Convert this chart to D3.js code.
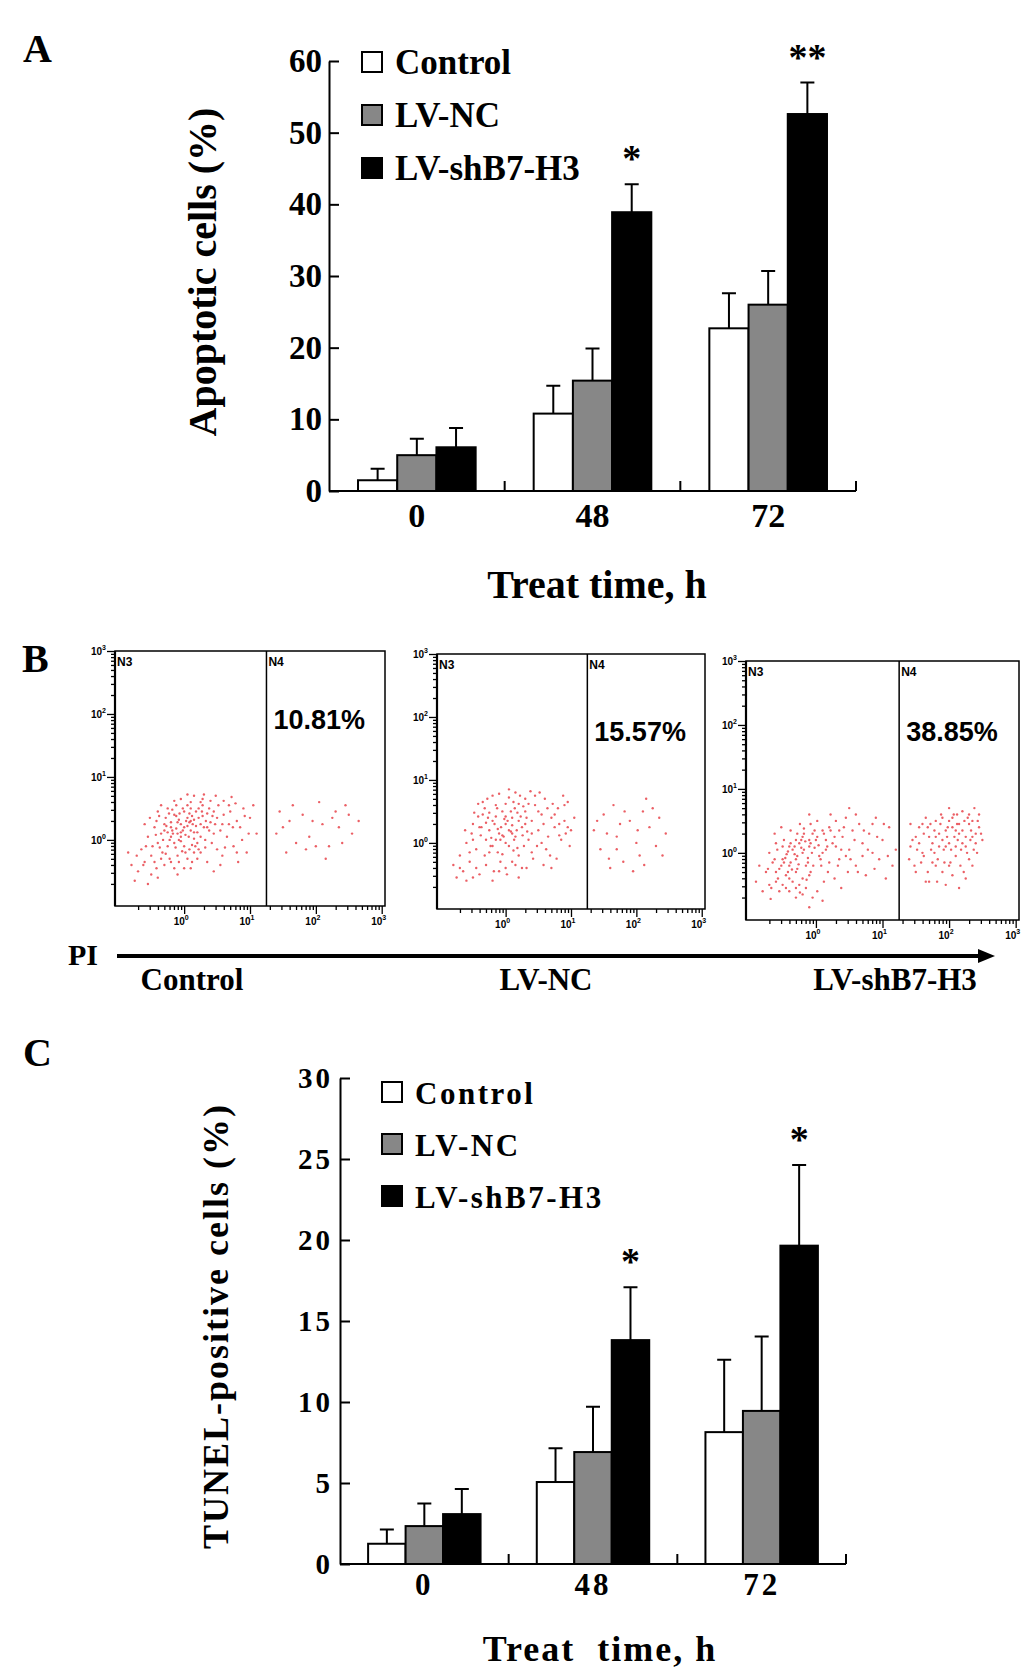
<!DOCTYPE html>
<html>
<head>
<meta charset="utf-8">
<script src="https://cdn.jsdelivr.net/npm/d3@7"></script>
<style>
body { margin: 0; background: #fff; }
svg text { font-family: "Liberation Serif", "Times New Roman", serif; font-weight: bold; fill: #000; }
.facs text { font-family: "Liberation Sans", Arial, sans-serif; }
</style>
</head>
<body>
<svg id="fig" width="1033" height="1674"></svg>
<script>
// ---- data ----
const groups = ["0", "48", "72"];
const series = ["Control", "LV-NC", "LV-shB7-H3"];

// panel A, apoptotic cells (%), one array per series (0, 48, 72 h)
const apoControl = [1.5, 10.8, 22.7];
const apoNC = [5.0, 15.4, 26.0];
const apoSh = [6.1, 38.9, 52.6];
const apoControlSd = [1.6, 3.9, 4.9];
const apoNCSd = [2.3, 4.5, 4.7];
const apoShSd = [2.7, 3.9, 4.4];
const apoTicks = [0, 10, 20, 30, 40, 50, 60];
const apoStars = ["", "*", "**"];

// panel C, TUNEL-positive cells (%)
const tunControl = [1.25, 5.06, 8.14];
const tunNC = [2.34, 6.91, 9.45];
const tunSh = [3.08, 13.82, 19.65];
const tunControlSd = [0.88, 2.08, 4.47];
const tunNCSd = [1.4, 2.8, 4.6];
const tunShSd = [1.55, 3.26, 4.98];
const tunTicks = [0, 5, 10, 15, 20, 25, 30];
const tunStars = ["", "*", "*"];

// panel B, flow cytometry events as [log10 x, log10 y]
const facsLabels = ["Control", "LV-NC", "LV-shB7-H3"];
const facsPct = ["10.81%", "15.57%", "38.85%"];
const facsGate = 1.25; // N3 / N4 border, log10
const facsMajor = [0, 1, 2, 3];

const ctrlLeft = [
[-0.12,0.18],[0.05,0.22],[-0.2,0.05],[0.1,0.3],[-0.05,-0.02],[0.15,0.12],[-0.3,0.25],[0.22,0.35],[-0.15,0.4],[0.02,0.08],
[-0.08,0.32],[0.3,0.2],[-0.25,-0.1],[0.08,-0.15],[0.18,0.45],[-0.35,0.1],[0.4,0.28],[-0.1,-0.25],[0.25,0.05],[-0.02,0.5],
[0.12,0.38],[-0.4,-0.05],[0.35,0.42],[-0.18,0.15],[0.05,-0.3],[0.28,0.55],[-0.28,0.35],[0.45,0.1],[-0.05,0.12],[0.2,-0.05],
[-0.22,-0.3],[0.1,0.6],[-0.45,0.2],[0.5,0.35],[0.0,-0.1],[0.32,-0.12],[-0.12,0.55],[0.15,0.02],[-0.33,-0.2],[0.38,0.5],
[-0.5,-0.25],[0.6,0.4],[-0.08,0.0],[0.25,0.25],[-0.2,0.28],[0.08,0.42],[-0.38,0.38],[0.42,-0.05],[-0.15,-0.45],[0.55,0.15],
[0.7,0.45],[0.65,0.05],[0.8,0.3],[0.75,-0.1],[0.9,0.5],[0.85,0.2],[1.0,0.35],[0.95,-0.2],[1.1,0.1],[0.6,0.62],
[0.48,0.7],[0.3,0.72],[0.72,0.68],[0.58,-0.25],[0.82,-0.35],[1.05,0.55],[0.68,0.25],[0.52,0.55],[0.88,0.0],[0.78,0.58],
[-0.6,-0.35],[-0.7,-0.5],[-0.55,0.05],[-0.65,-0.15],[-0.8,-0.4],[-0.5,-0.55],[-0.75,-0.65],[-0.42,-0.45],[-0.85,-0.2],[-0.6,0.25],
[-0.3,-0.4],[-0.1,-0.55],[0.1,-0.45],[0.2,-0.3],[0.35,-0.35],[0.45,-0.5],[-0.25,0.5],[-0.05,0.65],[0.15,0.7],[-0.4,0.45],
[-0.1,0.1],[0.0,0.2],[-0.2,0.2],[0.1,0.15],[-0.15,-0.05],[0.05,0.35],[-0.25,0.12],[0.18,0.22],[-0.05,0.25],[0.12,-0.08],
[-0.32,0.0],[0.28,0.38],[-0.18,0.48],[0.02,-0.2],[0.22,0.5],[-0.42,0.3],[0.38,0.15],[-0.08,-0.35],[0.32,0.0],[-0.12,0.38],
[0.08,0.28],[-0.28,-0.22],[0.45,0.45],[0.0,0.45],[-0.22,0.0],[0.15,-0.2],[-0.35,-0.3],[0.05,0.55],[0.25,-0.2],[-0.48,-0.1],
[-0.02,0.15],[0.07,0.05],[-0.17,0.1],[0.13,0.25],[-0.27,0.22],[0.2,0.12],[-0.07,0.42],[0.27,0.45],[-0.37,-0.12],[0.03,0.3],
[-0.13,-0.12],[0.33,0.3],[-0.23,0.42],[0.17,-0.1],[-0.43,0.08],[0.43,0.38],[-0.03,-0.18],[0.1,0.5],[-0.3,0.15],[0.22,-0.15],
[0.58,0.25],[0.62,-0.12],[0.68,0.55],[0.74,0.2],[0.8,-0.2],[0.92,0.38],[0.98,0.1],[0.55,-0.4],[0.4,0.62],[0.5,-0.15],
[-0.52,0.35],[-0.58,-0.1],[-0.62,-0.4],[-0.45,-0.35],[-0.72,-0.25],[-0.35,0.55],[-0.15,0.62],[0.05,0.72],[0.28,0.65],[-0.2,-0.35],
[0.0,-0.45],[0.12,-0.35],[-0.4,-0.6],[-0.55,-0.7],[0.25,0.6],[0.35,0.2],[0.47,0.25],[0.15,0.32],[-0.1,0.28],[-0.05,0.05]
];
const ctrlRight = [
[1.4,0.1],[1.6,0.3],[1.55,-0.2],[1.8,0.4],[1.9,0.05],[2.1,0.25],[2.2,-0.1],[2.3,0.45],[2.45,0.55],[2.05,0.6],
[1.7,-0.05],[2.55,0.1],[2.35,0.2],[2.65,0.3],[1.45,0.45],[2.15,-0.3],[1.95,0.3],[2.4,-0.05],
[1.5,0.2],[1.85,-0.15],[2.25,0.35],[2.5,0.4],[1.65,0.55],[2.0,-0.1]
];
const ncLeft = [
[0.0,0.3],[-0.1,0.15],[0.1,0.4],[-0.2,0.35],[0.15,0.1],[-0.05,0.5],[0.25,0.25],[-0.3,0.05],[0.05,-0.05],[-0.15,0.6],
[0.3,0.5],[-0.25,-0.15],[0.2,-0.2],[-0.4,0.25],[0.4,0.35],[-0.08,-0.3],[0.12,0.65],[-0.35,0.45],[0.35,0.05],[0.0,0.0],
[-0.12,0.22],[0.08,0.18],[-0.22,0.08],[0.18,0.48],[-0.02,0.38],[0.28,-0.05],[-0.32,0.55],[0.45,0.6],[-0.45,-0.1],[0.22,0.75],
[-0.5,0.3],[0.5,0.2],[-0.18,-0.45],[0.02,-0.5],[-0.3,-0.35],[0.15,-0.35],[-0.55,-0.3],[-0.6,0.0],[-0.65,-0.45],[-0.7,-0.2],
[0.55,0.45],[0.6,0.7],[0.65,0.1],[0.7,0.4],[0.75,0.25],[0.8,0.55],[0.85,0.05],[0.9,0.35],[0.95,0.65],[1.0,0.2],
[0.62,-0.1],[0.78,-0.25],[0.88,0.75],[0.52,0.8],[0.38,0.82],[-0.1,0.78],[-0.28,0.7],[0.05,0.85],[0.42,-0.25],[0.32,-0.4],
[-0.05,0.12],[0.1,0.28],[-0.15,0.42],[0.2,0.35],[-0.25,0.2],[0.05,0.2],[-0.08,0.05],[0.14,0.55],[-0.38,0.12],[0.26,0.12],
[-0.2,-0.05],[0.0,0.62],[0.35,0.62],[-0.42,0.62],[0.12,-0.12],[-0.12,-0.15],[0.48,-0.05],[-0.48,0.48],[0.3,0.3],[-0.3,0.32],
[-0.75,-0.55],[-0.6,-0.6],[-0.4,-0.5],[-0.2,-0.6],[0.0,-0.4],[0.2,-0.55],[-0.8,-0.35],[-0.52,0.15],[0.58,-0.35],[0.7,-0.4],
[1.05,0.4],[0.98,-0.05],[0.72,0.62],[0.92,0.15],[0.82,0.3],
[0.03,0.35],[-0.07,0.25],[0.17,0.2],[-0.17,0.3],[0.23,0.42],[-0.27,0.4],[0.08,0.5],[-0.03,0.1],[0.33,0.18],[-0.37,0.25],
[0.13,0.05],[-0.13,0.55],[0.27,0.58],[-0.23,-0.05],[0.4,0.15],[-0.42,0.42],[0.05,0.72],[-0.05,-0.18],[0.18,-0.08],[-0.32,-0.2],
[0.5,0.5],[0.58,0.3],[0.64,0.55],[0.68,-0.2],[0.75,0.45],[0.82,0.12],[0.9,0.6],[0.95,0.25],[0.45,0.75],[0.55,0.0],
[-0.5,0.05],[-0.55,-0.15],[-0.62,0.2],[-0.45,-0.4],[-0.7,-0.4],[-0.35,0.65],[-0.2,0.75],[0.15,0.8],[0.3,0.7],[-0.1,-0.45],
[0.1,-0.3],[0.25,-0.4],[-0.5,-0.55],[0.4,-0.15],[0.2,0.62],[0.0,0.42],[-0.15,0.05],[0.1,0.15],[-0.25,0.48],[0.32,0.4]
];
const ncRight = [
[1.35,0.2],[1.5,0.45],[1.45,-0.1],[1.65,0.6],[1.7,0.1],[1.8,-0.3],[1.9,0.35],[2.0,0.0],[2.1,0.5],[2.05,-0.2],
[2.2,0.25],[2.3,-0.05],[2.35,0.4],[1.6,-0.4],[1.75,0.3],[2.45,0.15],[1.95,-0.45],[2.15,0.7],[1.55,0.15],
[1.4,0.35],[1.58,-0.25],[1.82,0.5],[2.02,0.2],[2.25,0.55],[2.4,-0.2],[1.7,-0.1],[2.12,-0.35]
];
const shLeft = [
[-0.2,0.0],[-0.3,-0.1],[-0.1,0.1],[-0.4,-0.2],[0.0,0.2],[-0.25,0.15],[-0.15,-0.2],[-0.35,0.05],[0.05,-0.05],[-0.45,-0.35],
[-0.05,0.3],[-0.5,-0.1],[0.1,0.35],[-0.3,-0.3],[-0.2,0.25],[0.15,0.05],[-0.55,-0.25],[-0.1,-0.35],[0.2,0.4],[-0.4,0.1],
[-0.6,-0.45],[-0.65,-0.15],[-0.7,-0.5],[-0.75,-0.3],[-0.8,-0.6],[-0.55,-0.6],[-0.45,-0.55],[-0.35,-0.45],[-0.25,-0.5],[-0.15,-0.55],
[0.25,0.15],[0.3,0.5],[0.35,-0.1],[0.4,0.25],[0.45,0.55],[0.5,0.05],[0.55,0.35],[0.6,-0.2],[0.65,0.45],[0.7,0.15],
[0.75,-0.35],[0.8,0.3],[0.9,0.55],[0.95,-0.1],[1.0,0.2],[1.1,0.4],[1.15,-0.2],[0.85,0.0],[1.05,-0.4],[0.6,0.6],
[-0.22,0.08],[-0.32,-0.02],[-0.12,-0.08],[-0.42,0.02],[-0.02,0.08],[-0.28,0.3],[-0.18,0.38],[-0.08,0.45],[0.02,0.5],[-0.38,0.35],
[-0.48,0.2],[-0.58,0.05],[-0.62,0.3],[-0.52,0.4],[0.08,-0.2],[0.18,-0.3],[0.12,-0.45],[0.02,-0.6],[-0.05,-0.7],[-0.3,-0.7],
[-0.85,-0.2],[-0.9,-0.45],[-0.7,0.0],[0.28,-0.4],[0.38,-0.55],[0.48,-0.3],[0.22,0.6],[-0.1,0.6],[0.45,-0.05],[0.3,0.1],
[-0.26,-0.18],[-0.16,0.18],[-0.36,-0.26],[-0.06,0.0],[-0.46,-0.08],[0.04,0.12],[-0.2,-0.4],[-0.4,-0.4],[-0.6,-0.3],[-0.5,0.1],
[0.7,-0.05],[0.85,0.45],[1.2,0.05],[0.5,0.7],[0.15,0.2],[-0.24,-0.62],[-0.1,-0.85],[0.1,-0.75],[-0.68,-0.72],[0.35,0.35],
[-0.18,0.05],[-0.28,-0.05],[-0.08,0.15],[-0.38,-0.15],[0.02,0.25],[-0.22,0.2],[-0.12,-0.15],[-0.32,0.1],[0.07,-0.1],[-0.42,-0.3],
[-0.02,0.35],[-0.48,-0.15],[0.12,0.3],[-0.28,-0.25],[-0.18,0.3],[0.17,0.1],[-0.52,-0.2],[-0.08,-0.3],[0.22,0.35],[-0.38,0.15],
[-0.57,-0.4],[-0.62,-0.1],[-0.67,-0.55],[-0.72,-0.25],[-0.5,-0.5],[-0.4,-0.6],[-0.3,-0.55],[-0.2,-0.65],[0.28,0.25],[0.33,-0.2],
[0.42,0.4],[0.52,-0.1],[0.58,0.2],[0.63,-0.3],[0.72,0.35],[0.78,0.05],[0.88,-0.25],[0.92,0.25],[1.02,0.45],[1.08,-0.05],
[-0.1,0.2],[-0.3,0.2],[-0.44,-0.02],[-0.04,-0.2],[0.1,0.0],[-0.24,0.45],[-0.6,0.15],[0.2,-0.15],[0.38,0.05],[-0.14,-0.42]
];
const shRight = [
[1.4,-0.1],[1.45,0.2],[1.5,-0.3],[1.55,0.4],[1.6,0.0],[1.65,-0.45],[1.7,0.25],[1.75,-0.15],[1.8,0.5],[1.85,0.1],
[1.9,-0.3],[1.95,0.35],[2.0,0.15],[2.05,0.55],[2.1,-0.05],[2.15,0.3],[2.2,0.65],[2.25,0.1],[2.3,0.45],[2.35,-0.2],
[2.4,0.3],[2.45,0.6],[2.5,0.2],[1.92,0.05],[2.02,-0.15],[2.12,0.45],[2.22,-0.3],[2.32,0.2],[1.82,-0.45],[1.72,0.45],
[1.62,0.3],[1.52,0.05],[1.42,0.45],[1.88,0.6],[1.98,0.4],[2.08,0.25],[2.18,0.05],[2.28,0.55],[2.38,0.7],[2.42,0.0],
[1.58,-0.15],[1.68,-0.3],[1.78,0.0],[1.95,-0.5],[2.05,-0.35],[2.15,-0.55],[2.25,-0.4],[1.85,0.3],[2.0,0.7],[2.1,0.1],
[2.2,0.35],[2.3,-0.1],[1.75,0.15],[1.65,0.55],[2.45,0.4],[1.9,0.2],[2.12,0.6],[2.35,0.5],[1.5,0.25],[2.0,-0.2],
[2.25,0.25],[1.8,-0.2],[2.4,0.15],[2.05,0.4],
[1.42,0.1],[1.48,-0.2],[1.55,0.15],[1.62,-0.05],[1.68,0.4],[1.73,0.05],[1.78,0.35],[1.83,-0.1],[1.87,0.45],[1.93,-0.15],
[1.97,0.25],[2.03,0.05],[2.07,0.6],[2.13,0.2],[2.17,-0.2],[2.23,0.5],[2.27,0.0],[2.33,0.35],[2.37,0.05],[2.43,0.5],
[2.48,0.3],[1.6,0.45],[1.7,-0.45],[1.9,0.55],[2.1,0.35],[2.2,0.15],[2.3,0.6],[1.8,0.25],[2.0,0.5],[2.15,0.45],[1.95,0.1],[2.35,0.25]
];

// ---- drawing ----
const svg = d3.select("#fig");
const color = d3.scaleOrdinal().domain(series).range(["#ffffff", "#878787", "#000000"]);

function panelLetter(t, x, y) {
    svg.append("text").attr("x", x).attr("y", y).style("font-size", "40px").text(t);
}

function drawBars(c) {
    const g = svg.append("g");
    const y = d3.scaleLinear().domain([0, c.ticks[c.ticks.length - 1]]).range([c.y0, c.yTop]);
    const x = d3.scaleBand().domain(groups).range([c.x0, c.x1]);
    const xs = d3.scaleBand().domain(series).range([0, x.bandwidth()])
        .paddingInner(0).paddingOuter(c.pad);

    series.forEach((s, si) => {
        const rows = groups.map((gr, gi) => ({g: gr, v: c.means[si][gi], e: c.sd[si][gi]}));
        g.selectAll(null).data(rows).enter().append("path")
            .attr("d", d => {
                const cx = x(d.g) + xs(s) + xs.bandwidth() / 2;
                return "M" + cx + "," + y(d.v) + "V" + y(d.v + d.e) + "M" + (cx - 7) + "," + y(d.v + d.e) + "H" + (cx + 7);
            })
            .attr("stroke", "#000").attr("stroke-width", 2).attr("fill", "none");
        g.selectAll(null).data(rows).enter().append("rect")
            .attr("x", d => x(d.g) + xs(s))
            .attr("y", d => y(d.v))
            .attr("width", xs.bandwidth())
            .attr("height", d => c.y0 - y(d.v))
            .attr("fill", color(s))
            .attr("stroke", "#000")
            .attr("stroke-width", 2);
    });

    // stars over the LV-shB7-H3 bars
    const last = series.length - 1;
    g.selectAll(null).data(groups).enter().append("text")
        .attr("x", d => x(d) + xs(series[last]) + xs.bandwidth() / 2)
        .attr("y", (d, i) => y(c.means[last][i] + c.sd[last][i]) - c.starGap + 18)
        .attr("text-anchor", "middle")
        .style("font-size", "38px")
        .text((d, i) => c.stars[i]);

    // y axis, ticks point inward
    const ya = g.append("g").attr("transform", "translate(" + c.x0 + ",0)")
        .call(d3.axisLeft(y).tickValues(c.ticks).tickSizeInner(-10).tickSizeOuter(0).tickPadding(7));
    ya.select(".domain").attr("stroke-width", 2);
    ya.selectAll(".tick line").attr("stroke-width", 2);
    ya.selectAll("text").style("font-size", c.tickFont + "px").style("letter-spacing", c.tickLs + "px");

    // x axis
    const xa = g.append("g").attr("transform", "translate(0," + c.y0 + ")")
        .call(d3.axisBottom(x).tickSize(0).tickPadding(0));
    xa.select(".domain").remove();
    xa.selectAll("text").attr("y", c.xLabelDy).attr("dy", 0)
        .style("font-size", c.xFont + "px").style("letter-spacing", c.tickLs + "px");
    g.append("line").attr("x1", c.x0).attr("x2", c.x1).attr("y1", c.y0).attr("y2", c.y0)
        .attr("stroke", "#000").attr("stroke-width", 2);
    g.selectAll(null).data(groups).enter().append("line")
        .attr("x1", d => x(d) + x.bandwidth()).attr("x2", d => x(d) + x.bandwidth())
        .attr("y1", c.y0).attr("y2", c.y0 - 10)
        .attr("stroke", "#000").attr("stroke-width", 2);

    // legend
    series.forEach((s, i) => {
        const ly = c.legY + i * c.legStep;
        g.append("rect").attr("x", c.legX).attr("y", ly).attr("width", 20).attr("height", 20)
            .attr("fill", color(s)).attr("stroke", "#000").attr("stroke-width", 2);
        g.append("text").attr("x", c.legX + 33).attr("y", ly + 22)
            .style("font-size", c.legFont + "px").style("letter-spacing", c.legLs + "px")
            .text(s);
    });

    // titles
    g.append("text")
        .attr("transform", "translate(" + c.yTitleX + "," + ((c.y0 + c.yTop) / 2 + c.yTitleShift) + ") rotate(-90)")
        .attr("text-anchor", "middle")
        .style("font-size", c.titleFont + "px").style("letter-spacing", c.titleLs + "px")
        .text(c.yTitle);
    g.append("text")
        .attr("x", c.xTitleX).attr("y", c.xTitleY)
        .attr("text-anchor", "middle")
        .style("white-space", "pre")
        .style("font-size", c.titleFont + "px").style("letter-spacing", c.titleLs + "px")
        .text(c.xTitle);
}

function powLabel(sel, e) {
    sel.text("10");
    sel.append("tspan").attr("dy", -5).style("font-size", "7px").text(e);
}

function drawFacs(f, left, right, pct) {
    const g = svg.append("g").attr("class", "facs");
    const fx = d3.scaleLog().domain([Math.pow(10, -1.05), Math.pow(10, 3.05)]).range([f.x0, f.x1]);
    const fy = d3.scaleLog().domain([Math.pow(10, -1.05), 1000]).range([f.bottom, f.top]);
    const minor = fx.ticks().filter(v => v > 0.15 && v < 999 && facsMajor.indexOf(Math.round(Math.log10(v) * 1000) / 1000) < 0);
    const major = facsMajor.map(e => Math.pow(10, e));

    const dots = left.concat(right);
    g.selectAll(null).data(dots).enter().append("circle")
        .attr("cx", d => fx(Math.pow(10, d[0])))
        .attr("cy", d => fy(Math.pow(10, d[1])))
        .attr("r", 1.2)
        .attr("fill", "#e8434a")
        .attr("opacity", 0.85);

    g.append("rect").attr("x", f.x0).attr("y", f.top)
        .attr("width", f.x1 - f.x0).attr("height", f.bottom - f.top)
        .attr("fill", "none").attr("stroke", "#000").attr("stroke-width", 1.5);
    g.append("line").attr("x1", fx(Math.pow(10, facsGate))).attr("x2", fx(Math.pow(10, facsGate)))
        .attr("y1", f.top).attr("y2", f.bottom).attr("stroke", "#000").attr("stroke-width", 1.5);
    g.append("line").attr("x1", f.x0).attr("x2", f.x0).attr("y1", f.top).attr("y2", f.bottom)
        .attr("stroke", "#000").attr("stroke-width", 2.2);

    // axes
    const xMinor = g.append("g").attr("transform", "translate(0," + f.bottom + ")")
        .call(d3.axisBottom(fx).tickValues(minor).tickSize(4).tickFormat(""));
    const xMajor = g.append("g").attr("transform", "translate(0," + f.bottom + ")")
        .call(d3.axisBottom(fx).tickValues(major).tickSize(8).tickFormat(""));
    const yMinor = g.append("g").attr("transform", "translate(" + f.x0 + ",0)")
        .call(d3.axisLeft(fy).tickValues(minor).tickSize(4).tickFormat(""));
    const yMajor = g.append("g").attr("transform", "translate(" + f.x0 + ",0)")
        .call(d3.axisLeft(fy).tickValues(major).tickSize(8).tickFormat(""));
    [xMinor, xMajor, yMinor, yMajor].forEach(a => {
        a.select(".domain").remove();
        a.selectAll(".tick line").attr("stroke-width", 1.3);
    });

    facsMajor.forEach(e => {
        const tx = g.append("text").attr("x", fx(Math.pow(10, e)) - 3).attr("y", f.bottom + 19)
            .attr("text-anchor", "middle").style("font-size", "10px");
        powLabel(tx, e);
        const ty = g.append("text").attr("x", f.x0 - 9).attr("y", fy(Math.pow(10, e)) + 4)
            .attr("text-anchor", "end").style("font-size", "10px");
        powLabel(ty, e);
    });

    g.append("text").attr("x", f.x0 + 2).attr("y", f.top + 15).style("font-size", "12px").text("N3");
    g.append("text").attr("x", fx(Math.pow(10, facsGate)) + 2).attr("y", f.top + 15).style("font-size", "12px").text("N4");
    g.append("text").attr("x", fx(Math.pow(10, facsGate)) + 7).attr("y", f.pctY)
        .style("font-size", "27px").text(pct);
}

// panel A
panelLetter("A", 23, 62);
drawBars({
    means: [apoControl, apoNC, apoSh], sd: [apoControlSd, apoNCSd, apoShSd],
    ticks: apoTicks, stars: apoStars, starGap: 31,
    x0: 329, x1: 856, y0: 491, yTop: 61, pad: 0.74,
    tickFont: 33, tickLs: 0, xFont: 34, xLabelDy: 36,
    legX: 362, legY: 52, legStep: 53, legFont: 35, legLs: 0,
    yTitle: "Apoptotic cells (%)", yTitleX: 216, yTitleShift: -4,
    xTitle: "Treat time, h", xTitleX: 597, xTitleY: 598,
    titleFont: 40, titleLs: 0
});

// panel B
panelLetter("B", 22, 672);
const facsFrames = [
    {x0: 115, x1: 385, top: 651, bottom: 906, pctY: 729},
    {x0: 437, x1: 705, top: 654, bottom: 909, pctY: 741},
    {x0: 746, x1: 1019, top: 661, bottom: 920, pctY: 741}
];
const facsData = [[ctrlLeft, ctrlRight], [ncLeft, ncRight], [shLeft, shRight]];
facsFrames.forEach((f, i) => drawFacs(f, facsData[i][0], facsData[i][1], facsPct[i]));

svg.append("line").attr("x1", 117).attr("x2", 980).attr("y1", 956).attr("y2", 956)
    .attr("stroke", "#000").attr("stroke-width", 4);
svg.append("path").attr("d", "M978,949L995,956L978,963Z").attr("fill", "#000");
svg.append("text").attr("x", 68).attr("y", 965).style("font-size", "30px").text("PI");
const facsLabelX = [192, 546, 895];
svg.selectAll(null).data(facsLabels).enter().append("text")
    .attr("x", (d, i) => facsLabelX[i]).attr("y", 990)
    .attr("text-anchor", "middle").style("font-size", "31px")
    .text(d => d);

// panel C
panelLetter("C", 23, 1066);
drawBars({
    means: [tunControl, tunNC, tunSh], sd: [tunControlSd, tunNCSd, tunShSd],
    ticks: tunTicks, stars: tunStars, starGap: 31,
    x0: 340, x1: 846, y0: 1564, yTop: 1078, pad: 0.75,
    tickFont: 29, tickLs: 3, xFont: 31, xLabelDy: 31,
    legX: 382, legY: 1082, legStep: 52, legFont: 31, legLs: 2.5,
    yTitle: "TUNEL-positive cells (%)", yTitleX: 228, yTitleShift: 5,
    xTitle: "Treat  time, h", xTitleX: 600, xTitleY: 1661,
    titleFont: 36, titleLs: 2
});
</script>
</body>
</html>
